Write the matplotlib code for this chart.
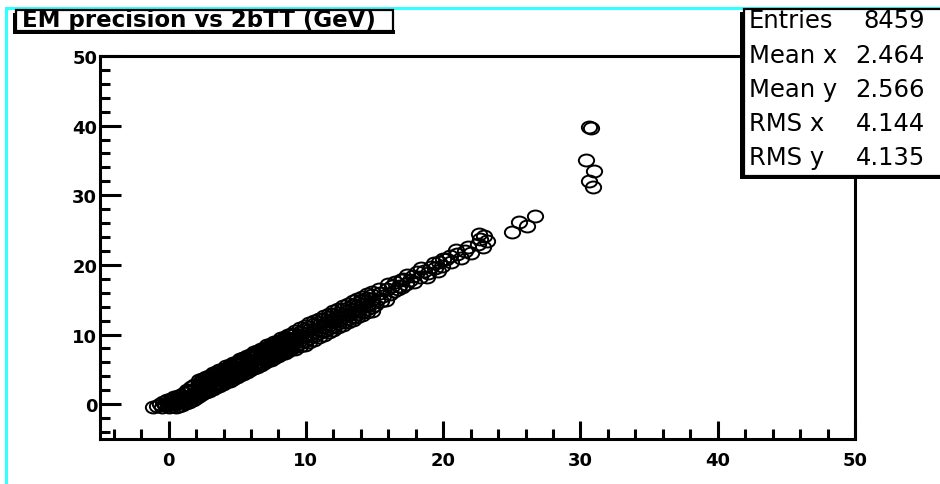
import matplotlib
matplotlib.use("Agg")
import matplotlib.pyplot as plt
from matplotlib.path import Path
from matplotlib.patches import Rectangle
from matplotlib.lines import Line2D
from matplotlib.ticker import MultipleLocator
import numpy as np

# ---------------- data ----------------
title_text = "EM precision vs 2bTT (GeV)"
stat_labels = ["Entries", "Mean x", "Mean y", "RMS x", "RMS y"]
stat_values = ["8459", "2.464", "2.566", "4.144", "4.135"]

# low-x dense core
low_x = [-1.15, -0.85, -0.65, -0.50, -0.40, -0.25, -0.15, 0.00, 0.05, 0.15,
         0.25, 0.30, 0.40, 0.50, 0.55, 0.65, 0.75, 0.80, 0.90, 1.00,
         1.05, 1.15, 1.25, 1.30, 1.40, 1.50, 1.55, 1.65, 1.75, 1.80,
         1.90, 2.00, 2.05, 0.10, 0.45, 0.70, 0.95, 1.20, 1.45, 1.70,
         1.95, -0.30, 0.20, 0.60, 1.10, 1.35, 1.60, 1.85]
low_y = [-0.40, -0.25, 0.05, -0.35, 0.30, -0.15, 0.55, -0.35, 0.20, 0.80,
         -0.30, 0.35, 1.00, -0.35, 0.45, 1.15, -0.25, 0.55, 1.35, -0.10,
         0.75, 1.55, 0.10, 0.95, 1.80, 0.35, 1.20, 2.00, 0.65, 1.45,
         2.25, 0.95, 1.55, 0.05, 0.15, 0.20, 0.45, 0.50, 0.80, 1.05,
         1.30, 0.05, 0.45, 0.80, 1.10, 2.10, 2.40, 2.75]

# main band, seven lanes
band_x = [2.20, 2.45, 2.70, 2.95, 3.20, 3.45, 3.70, 3.95, 4.20, 4.45,
          4.70, 4.95, 5.20, 5.45, 5.70, 5.95, 6.20, 6.45, 6.70, 6.95,
          7.20, 7.45, 7.70, 7.95, 8.20, 8.45, 8.70, 8.95]
band_y_0 = [1.15, 1.40, 1.70, 1.85, 2.15, 2.45, 2.60, 2.90, 3.15, 3.40,
            3.65, 3.85, 4.15, 4.40, 4.65, 4.90, 5.15, 5.40, 5.65, 5.90,
            6.15, 6.40, 6.60, 6.90, 7.15, 7.40, 7.65, 7.90]
band_y_1 = [1.45, 1.80, 1.95, 2.30, 2.45, 2.80, 2.95, 3.30, 3.45, 3.80,
            3.95, 4.30, 4.45, 4.80, 4.95, 5.30, 5.45, 5.80, 5.95, 6.30,
            6.45, 6.80, 6.95, 7.30, 7.45, 7.80, 7.95, 8.30]
band_y_2 = [1.90, 2.10, 2.45, 2.60, 2.95, 3.10, 3.45, 3.60, 3.95, 4.10,
            4.45, 4.60, 4.95, 5.10, 5.45, 5.60, 5.95, 6.10, 6.45, 6.60,
            6.95, 7.10, 7.45, 7.60, 7.95, 8.10, 8.45, 8.60]
band_y_3 = [2.25, 2.60, 2.80, 3.10, 3.30, 3.50, 3.85, 4.05, 4.30, 4.50,
            4.85, 5.00, 5.35, 5.55, 5.80, 6.00, 6.35, 6.50, 6.85, 7.05,
            7.30, 7.50, 7.85, 8.00, 8.35, 8.55, 8.75, 9.05]
band_y_4 = [2.75, 2.90, 3.25, 3.40, 3.75, 3.90, 4.25, 4.40, 4.75, 4.90,
            5.25, 5.40, 5.75, 5.90, 6.25, 6.40, 6.75, 6.90, 7.25, 7.40,
            7.75, 7.90, 8.25, 8.40, 8.75, 8.90, 9.25, 9.40]
band_y_5 = [3.05, 3.40, 3.55, 3.90, 4.05, 4.40, 4.55, 4.90, 5.05, 5.40,
            5.55, 5.90, 6.05, 6.40, 6.55, 6.90, 7.05, 7.40, 7.55, 7.90,
            8.05, 8.40, 8.55, 8.90, 9.05, 9.40, 9.55, 9.90]
band_y_6 = [3.45, 3.60, 3.95, 4.10, 4.45, 4.60, 4.95, 5.10, 5.45, 5.60,
            5.95, 6.10, 6.45, 6.60, 6.95, 7.10, 7.45, 7.60, 7.95, 8.10,
            8.45, 8.60, 8.95, 9.10, 9.45, 9.60, 9.95, 10.10]

# mid band, six lanes
mid_x = [9.20, 9.55, 9.90, 10.25, 10.60, 10.95, 11.30, 11.65, 12.00, 12.35,
         12.70, 13.05, 13.40, 13.75, 14.10, 14.45, 14.80]
mid_y_0 = [7.90, 8.30, 8.55, 8.95, 9.25, 9.70, 9.95, 10.40, 10.65, 11.05,
           11.35, 11.80, 12.05, 12.50, 12.75, 13.20, 13.45]
mid_y_1 = [8.35, 8.80, 9.05, 9.50, 9.75, 10.20, 10.45, 10.90, 11.15, 11.60,
           11.85, 12.30, 12.55, 13.00, 13.25, 13.70, 13.95]
mid_y_2 = [8.95, 9.25, 9.70, 9.95, 10.40, 10.65, 11.10, 11.35, 11.80, 12.05,
           12.50, 12.75, 13.20, 13.45, 13.90, 14.15, 14.60]
mid_y_3 = [9.45, 9.90, 10.15, 10.60, 10.85, 11.30, 11.55, 12.00, 12.25, 12.70,
           12.95, 13.40, 13.65, 14.10, 14.35, 14.80, 15.05]
mid_y_4 = [10.10, 10.35, 10.80, 11.05, 11.50, 11.75, 12.20, 12.45, 12.90, 13.15,
           13.60, 13.85, 14.30, 14.55, 15.00, 15.25, 15.70]
mid_y_5 = [10.55, 10.95, 11.20, 11.60, 11.95, 12.30, 12.65, 13.00, 13.35, 13.70,
           14.05, 14.40, 14.75, 15.10, 15.45, 15.80, 16.15]

# tail
tail_x = [15.2, 15.4, 15.6, 15.9, 16.1, 16.3, 16.5, 16.7, 17.1, 17.3,
          17.6, 17.8, 18.1, 18.3, 18.6, 18.9, 19.1, 19.4, 19.7, 19.9,
          20.2, 20.5, 20.6, 21.0, 21.3, 21.6, 22.0, 22.5, 22.6, 22.7,
          22.9, 23.2, 23.0, 15.0, 15.3, 15.8, 16.0, 16.4, 16.9, 17.0,
          17.4, 17.9, 18.4, 18.8, 19.3, 19.6, 20.0, 20.9, 21.8, 15.5,
          16.8]
tail_y = [15.0, 16.0, 15.5, 16.5, 15.8, 17.0, 17.5, 16.6, 18.0, 17.2,
          17.9, 18.4, 19.0, 18.3, 19.1, 18.8, 19.7, 19.6, 20.4, 19.9,
          20.8, 21.3, 20.4, 21.6, 21.0, 22.0, 21.7, 23.0, 24.4, 23.7,
          22.6, 23.4, 24.1, 14.2, 16.6, 15.0, 17.3, 16.2, 17.9, 16.8,
          18.6, 17.6, 19.5, 18.2, 20.3, 19.1, 20.9, 22.2, 22.6, 14.8,
          17.0]

# isolated outliers
out_x = [25.0, 25.5, 26.1, 26.7, 30.4, 30.65, 30.75, 31.0, 30.6, 30.9]
out_y = [24.7, 26.2, 25.6, 27.0, 35.1, 39.75, 39.6, 33.5, 32.0, 31.2]

# ---------------- layout helpers ----------------
W, H = 940, 485


def fx(px):
    return px / W


def fy(py):
    return 1 - py / H


fig = plt.figure(figsize=(W / 100, H / 100), dpi=100)
fig.patch.set_facecolor("white")

# axes frame: x from px 100 to 855, y from px 57 to 440
ax = fig.add_axes([fx(100), fy(440), (855 - 100) / W, (440 - 57) / H])
ax.set_xlim(-5, 50)
ax.set_ylim(-5, 50)

circ = Path.unit_circle()
ell = Path(circ.vertices * np.array([1.0, 0.78]), circ.codes)
mk = dict(linestyle="none", marker=ell, ms=11, mfc="none", mec="black", mew=1.4)

ax.plot(low_x, low_y, **mk)
for ys in (band_y_0, band_y_1, band_y_2, band_y_3, band_y_4, band_y_5, band_y_6):
    ax.plot(band_x, ys, **mk)
for ys in (mid_y_0, mid_y_1, mid_y_2, mid_y_3, mid_y_4, mid_y_5):
    ax.plot(mid_x, ys, **mk)
ax.plot(tail_x, tail_y, **mk)
ax.plot(out_x, out_y, **mk)

for s in ax.spines.values():
    s.set_linewidth(2.2)
    s.set_color("black")

ax.xaxis.set_major_locator(MultipleLocator(10))
ax.xaxis.set_minor_locator(MultipleLocator(2))
ax.yaxis.set_major_locator(MultipleLocator(10))
ax.yaxis.set_minor_locator(MultipleLocator(2))
ax.tick_params(axis="x", which="major", direction="in", length=13, width=2.2, pad=9)
ax.tick_params(axis="x", which="minor", direction="in", length=7, width=2.2)
ax.tick_params(axis="y", which="major", direction="in", length=15, width=2.2, pad=2)
ax.tick_params(axis="y", which="minor", direction="in", length=7, width=2.2)
ax.tick_params(top=False, right=False, which="both")
for lab in ax.get_xticklabels() + ax.get_yticklabels():
    lab.set_fontfamily("DejaVu Sans")
    lab.set_fontweight("bold")
    lab.set_fontsize(13)

# cyan canvas border lines
fig.add_artist(Line2D([fx(6), fx(940)], [fy(9), fy(9)], transform=fig.transFigure,
                      color="#33ffff", lw=2.2, zorder=1))
fig.add_artist(Line2D([fx(6), fx(6)], [fy(9), fy(485)], transform=fig.transFigure,
                      color="#33ffff", lw=2.2, zorder=1))


def rect_px(x0, y0, x1, y1, **kw):
    fig.add_artist(Rectangle((fx(x0), fy(y1)), (x1 - x0) / W, (y1 - y0) / H,
                             transform=fig.transFigure, **kw))


# title box with shadow
rect_px(13, 14, 17, 35, fc="black", lw=0, zorder=4)
rect_px(13, 31, 395, 35, fc="black", lw=0, zorder=4)
rect_px(16, 11, 393, 32, fc="white", ec="black", lw=1.6, zorder=5)
fig.text(fx(22), fy(21), title_text, ha="left", va="center", fontsize=16.5,
         fontweight="bold", family="DejaVu Sans", zorder=6)

# statistics box with shadow
rect_px(740, 13, 745, 180, fc="black", lw=0, zorder=4)
rect_px(740, 175, 945, 180, fc="black", lw=0, zorder=4)
rect_px(744, 10, 945, 177, fc="white", ec="black", lw=1.6, zorder=5)
line_y = [21, 56, 90, 124, 158]
for lab, val, yy in zip(stat_labels, stat_values, line_y):
    fig.text(fx(749), fy(yy), lab, ha="left", va="center", fontsize=17.5,
             family="DejaVu Sans", zorder=6)
    fig.text(fx(925), fy(yy), val, ha="right", va="center", fontsize=17.5,
             family="DejaVu Sans", zorder=6)

fig.savefig("out.png", dpi=100)
